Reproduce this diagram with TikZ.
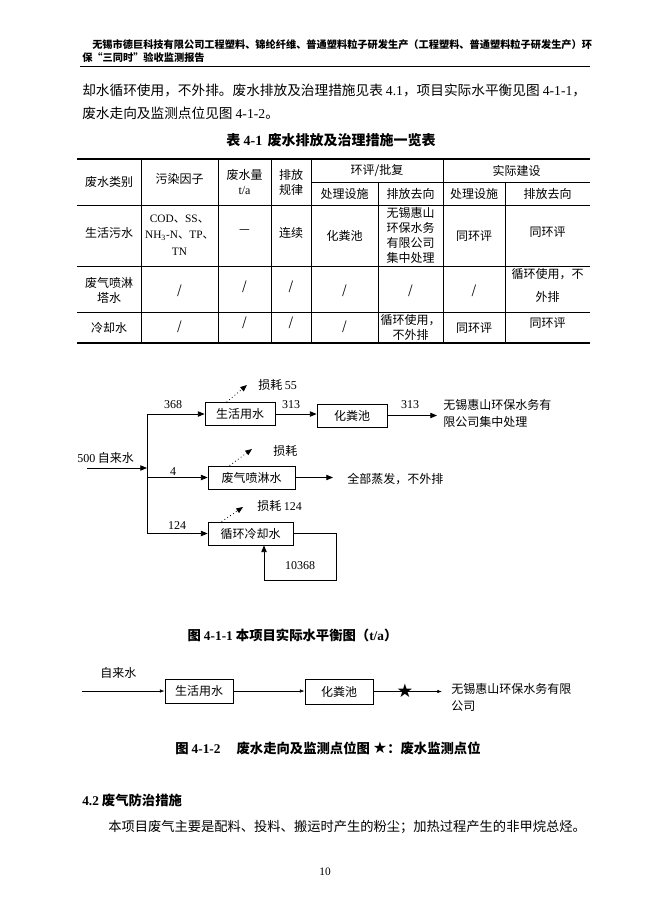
\documentclass[tikz,border=0pt]{standalone}
\usepackage{fontspec}
\setmainfont{Noto Sans CJK SC}
\newfontfamily\latf{Liberation Serif}
\newfontfamily\cjkf{Noto Sans CJK SC}
\newfontfamily\symf{DejaVu Sans}
\newcommand\ltn[1]{{\latf #1}}
\newcommand\dun{{\cjkf 、}}
\usetikzlibrary{arrows.meta,calc}
\tikzset{
  body/.style={font=\fontsize{10.25}{13}\selectfont, inner sep=0pt, anchor=west},
  hdr/.style={font=\fontsize{7.65}{9}\selectfont\bfseries, inner sep=0pt, anchor=west},
  captxt/.style={font=\fontsize{10.5}{13}\selectfont\bfseries, inner sep=0pt},
  tb/.style={font=\fontsize{9}{11.3}\selectfont, inner sep=0pt, align=center},
  fl/.style={font=\fontsize{9}{12.75}\selectfont, inner sep=0pt},
  fbox/.style={draw, line width=0.6pt, minimum height=17.25pt, inner sep=0pt, font=\fontsize{9}{11}\selectfont},
  flow/.style={line width=0.6pt, -{Triangle[length=5pt,width=4pt]}},
  loss/.style={line width=0.6pt, dotted, -{Triangle[length=5pt,width=4pt]}},
  thinarr/.style={line width=0.5pt, -{Latex[length=3.5pt,width=2.6pt]}},
  tline/.style={line width=0.6pt},
  tthick/.style={line width=1.1pt}
}
\begin{document}
\begin{tikzpicture}[x=0.75pt,y=-0.75pt]
\useasboundingbox (0,0) rectangle (650,918);
\fill[white] (0,0) rectangle (650,918);

% header
\node[hdr] (h1) at (92,45) {无锡市德巨科技有限公司工程塑料、锦纶纤维、普通塑料粒子研发生产（工程塑料、普通塑料粒子研发生产）环};
\node[hdr] (h2) at (82,58) {保“三同时”验收监测报告};
\draw[line width=0.8pt] (80,66.5) -- (590,66.5);

% body text
\node[body] (p1) at (82,90) {却水循环使用，不外排。废水排放及治理措施见表 \ltn{4.1}，项目实际水平衡见图 \ltn{4-1-1}，};
\node[body] (p2) at (82,113) {废水走向及监测点位见图 \ltn{4-1-2}。};
\node[captxt] (tcap) at (331,140) {表 \ltn{\bfseries 4-1}\hspace{4pt}废水排放及治理措施一览表};

% table lines
\draw[tthick] (77,159) -- (590,159);
\draw[tline] (311,182) -- (590,182);
\draw[tline] (77,205) -- (590,205);
\draw[tline] (77,266) -- (590,266);
\draw[tline] (77,312) -- (590,312);
\draw[tthick] (77,343) -- (590,343);
\foreach \xx in {141,218,271,311,443}{\draw[tline] (\xx,159) -- (\xx,343);}
\foreach \xx in {378,505}{\draw[tline] (\xx,182) -- (\xx,343);}

% table header
\node[tb] (c11) at (109,182) {废水类别};
\node[tb] (c12) at (179.5,179) {污染因子};
\node[tb] (c13) at (244.5,182) {废水量\\\ltn{t/a}};
\node[tb] (c14) at (291,182) {排放\\规律};
\node[tb] (c15) at (377,171) {环评/批复};
\node[tb] (c16) at (516.5,171) {实际建设};
\node[tb] (c17) at (344.5,194) {处理设施};
\node[tb] (c18) at (410.5,194) {排放去向};
\node[tb] (c19) at (474,194) {处理设施};
\node[tb] (c1a) at (547.5,194) {排放去向};
% row 1
\node[tb] (r11) at (109,233) {生活污水};
\node[tb, font=\fontsize{8.5}{12.5}\selectfont\latf] (r12) at (179.5,235) {COD\dun SS\dun\\NH\textsubscript{3}-N\dun TP\dun\\TN};
\node[tb] (r13) at (244.5,232) {—};
\node[tb] (r14) at (291,233) {连续};
\node[tb] (r15) at (344.5,236) {化粪池};
\node[tb] (r16) at (410.5,235.5) {无锡惠山\\环保水务\\有限公司\\集中处理};
\node[tb] (r17) at (474,236) {同环评};
\node[tb] (r18) at (547.5,232) {同环评};
% row 2
\node[tb] (r21) at (109,290) {废气喷淋\\塔水};
\node[tb] (r22) at (179.5,291) {/};
\node[tb] (r23) at (244.5,287) {/};
\node[tb] (r24) at (291,287) {/};
\node[tb] (r25) at (344.5,291) {/};
\node[tb] (r26) at (410.5,291) {/};
\node[tb] (r27) at (474,291) {/};
\node[tb, font=\fontsize{9}{17}\selectfont] (r28) at (547.5,285.5) {循环使用，不\\外排};
% row 3
\node[tb] (r31) at (109,328) {冷却水};
\node[tb] (r32) at (179.5,327) {/};
\node[tb] (r33) at (244.5,323) {/};
\node[tb] (r34) at (291,323) {/};
\node[tb] (r35) at (344.5,327) {/};
\node[tb] (r36) at (410.5,327.5) {循环使用，\\不外排};
\node[tb] (r37) at (474,328) {同环评};
\node[tb] (r38) at (547.5,323) {同环评};

% ---------- water balance diagram ----------
\node[fbox, minimum width=52.5pt] (B1) at (240,414) {生活用水};
\node[fbox, minimum width=52.5pt] (B2) at (352,415.5) {化粪池};
\node[fbox, minimum width=65.25pt] (B3) at (251.5,477.5) {废气喷淋水};
\node[fbox, minimum width=63.75pt] (B4) at (250.5,533.5) {循环冷却水};

\coordinate (in) at (87,468);
\coordinate (tj) at (147,468);
\coordinate (t1) at (147,414);
\coordinate (t2) at (147,477.5);
\coordinate (t3) at (147,533.5);
\draw[flow] (in) -- (tj);
\draw[line width=0.6pt] (t1) -- (t3);
\draw[flow] (t1) -- (B1.west);
\draw[flow] (t2) -- (B3.west);
\draw[flow] (t3) -- (B4.west);
\draw[flow] (B1.east) -- (B1.east -| B2.west);
\coordinate (o1) at (437,415.5);
\draw[flow] (B2.east) -- (o1);
\coordinate (o2) at (333,477.5);
\draw[flow] (B3.east) -- (o2);
\coordinate (l1) at (336,533.5);
\coordinate (l2) at (336,580);
\coordinate (l3) at (264,580);
\draw[flow] (B4.east) -- (l1) -- (l2) -- (l3) -- (l3 |- B4.south);

\coordinate (e1) at (247,385);
\coordinate (e2) at (252,449);
\coordinate (e3) at (243,507);
\draw[loss] ($(B1.north west)+(22,0)$) -- (e1);
\draw[loss] ($(B3.north west)+(22,0)$) -- (e2);
\draw[loss] ($(B4.north west)+(14,0)$) -- (e3);

\node[fl, anchor=west] (n500) at (77,458) {\ltn{500} 自来水};
\node[fl, font=\fontsize{9}{11}\selectfont\latf] (n368) at (173,405) {368};
\node[fl, font=\fontsize{9}{11}\selectfont\latf] (n313a) at (291,405) {313};
\node[fl, font=\fontsize{9}{11}\selectfont\latf] (n313b) at (410,405) {313};
\node[fl, font=\fontsize{9}{11}\selectfont\latf] (n4) at (173,472) {4};
\node[fl, font=\fontsize{9}{11}\selectfont\latf] (n124) at (177,526) {124};
\node[fl, font=\fontsize{9}{11}\selectfont\latf] (n10368) at (300,566) {10368};
\node[fl, anchor=west] (s1) at (258,385) {损耗 \ltn{55}};
\node[fl, anchor=west] (s2) at (273,451) {损耗};
\node[fl, anchor=west] (s3) at (257,506) {损耗 \ltn{124}};
\node[fl, anchor=west, align=left] (dst1) at (443,413.5) {无锡惠山环保水务有\\限公司集中处理};
\node[fl, anchor=west] (dst2) at (347,479) {全部蒸发，不外排};

\node[captxt, font=\fontsize{10}{12}\selectfont\bfseries] (cap1) at (292.5,635) {图 \ltn{\bfseries 4-1-1} 本项目实际水平衡图（\ltn{\bfseries t/a}）};

% ---------- wastewater route diagram ----------
\node[fbox, minimum width=51pt, minimum height=18pt] (D1) at (199,691) {生活用水};
\node[fbox, minimum width=51pt, minimum height=18.75pt] (D2) at (339,691.5) {化粪池};
\coordinate (a0) at (82,691);
\coordinate (a1) at (442,691.5);
\draw[thinarr] (a0) -- (D1.west);
\draw[thinarr] (D1.east) -- (D1.east -| D2.west);
\draw[thinarr] (D2.east) -- (a1);
\node[inner sep=0pt, font=\symf\fontsize{14}{15}\selectfont] (star) at (405,691) {★};
\node[fl, anchor=west] (zls) at (100,673) {自来水};
\node[fl, anchor=west, align=left] (dst3) at (451,697.5) {无锡惠山环保水务有限\\公司};

\node[captxt, font=\fontsize{10}{12}\selectfont\bfseries] (cap2) at (328,748) {图 \ltn{\bfseries 4-1-2}\hspace{12pt}废水走向及监测点位图 {\symf\fontsize{12}{12}\selectfont ★}：废水监测点位};

% section 4.2
\node[body, font=\fontsize{10}{12}\selectfont\bfseries] (sec) at (82,800) {\ltn{\bfseries 4.2} 废气防治措施};
\node[body, font=\fontsize{9.95}{12}\selectfont] (p3) at (108,827) {本项目废气主要是配料、投料、搬运时产生的粉尘；加热过程产生的非甲烷总烃。};
\node[inner sep=0pt, font=\latf\fontsize{8.5}{10}\selectfont] (pg) at (325,872) {10};
\end{tikzpicture}
\end{document}
